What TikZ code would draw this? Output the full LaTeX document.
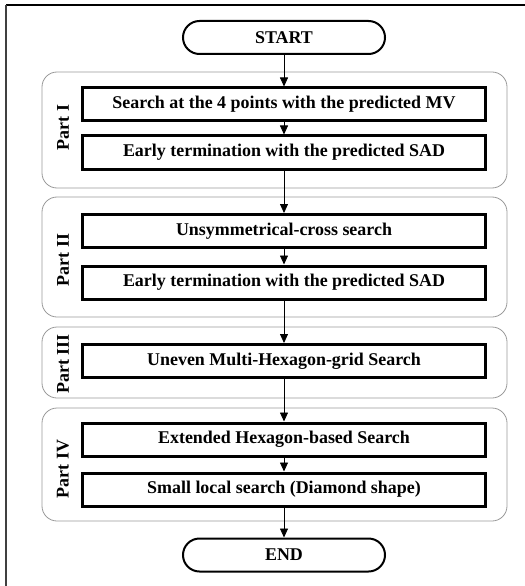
\documentclass[tikz,border=0pt]{standalone}
\usepackage{fontspec}
\setmainfont{Liberation Serif}
\usetikzlibrary{arrows.meta}
\begin{document}
\begin{tikzpicture}[x=1bp,y=-1bp,
  txt/.style={font=\fontsize{18}{21}\selectfont\bfseries},
  term/.style={txt, draw, line width=2bp, rounded corners=16.5bp, minimum width=202bp, minimum height=33bp, inner sep=0pt},
  stepbox/.style={txt, draw, line width=3bp, minimum width=402bp, minimum height=33bp, inner sep=0pt},
  part/.style={draw=gray!80, line width=0.8bp, rounded corners=15bp, minimum width=465bp, inner sep=0pt},
  plabel/.style={txt, rotate=90, inner sep=0pt},
  arr/.style={line width=0.8bp, -{Triangle[length=9bp,width=8bp]}}
]
\useasboundingbox (0,0) rectangle (525,586);
% frame
\coordinate (fa) at (6,5);
\coordinate (fb) at (525,5);
\coordinate (fc) at (6,586);
\draw[line width=1.3bp] (fa) -- (fb);
\draw[line width=2bp, black!75] (fa) -- (fc);
% containers
\node[part, minimum height=116bp] (p1) at (274.5,130) {};
\node[part, minimum height=120bp] (p2) at (274.5,257) {};
\node[part, minimum height=71bp] (p3) at (274.5,362.5) {};
\node[part, minimum height=113bp] (p4) at (274.5,464.5) {};
\node[plabel] (l1) at (63,127.5) {Part I};
\node[plabel] (l2) at (63,260) {Part II};
\node[plabel] (l3) at (63,364) {Part III};
\node[plabel] (l4) at (63,469) {Part IV};
% terminators
\node[term] (start) at (284,37.5) {START};
\node[term] (end) at (284,555) {END};
% steps
\node[stepbox] (b1) at (284,104.5) {Search at the 4 points with the predicted MV};
\node[stepbox] (b2) at (284,152.5) {Early termination with the predicted SAD};
\node[stepbox] (b3) at (284,231) {Unsymmetrical-cross search};
\node[stepbox] (b4) at (284,282.5) {Early termination with the predicted SAD};
\node[stepbox] (b5) at (284,361) {Uneven Multi-Hexagon-grid Search};
\node[stepbox] (b6) at (284,439.5) {Extended Hexagon-based Search};
\node[stepbox] (b7) at (284,489.5) {Small local search (Diamond shape)};
% arrows
\draw[arr] (start) -- (b1);
\draw[arr] (b1) -- (b2);
\draw[arr] (b2) -- (b3);
\draw[arr] (b3) -- (b4);
\draw[arr] (b4) -- (b5);
\draw[arr] (b5) -- (b6);
\draw[arr] (b6) -- (b7);
\draw[arr] (b7) -- (end);
\end{tikzpicture}
\end{document}
